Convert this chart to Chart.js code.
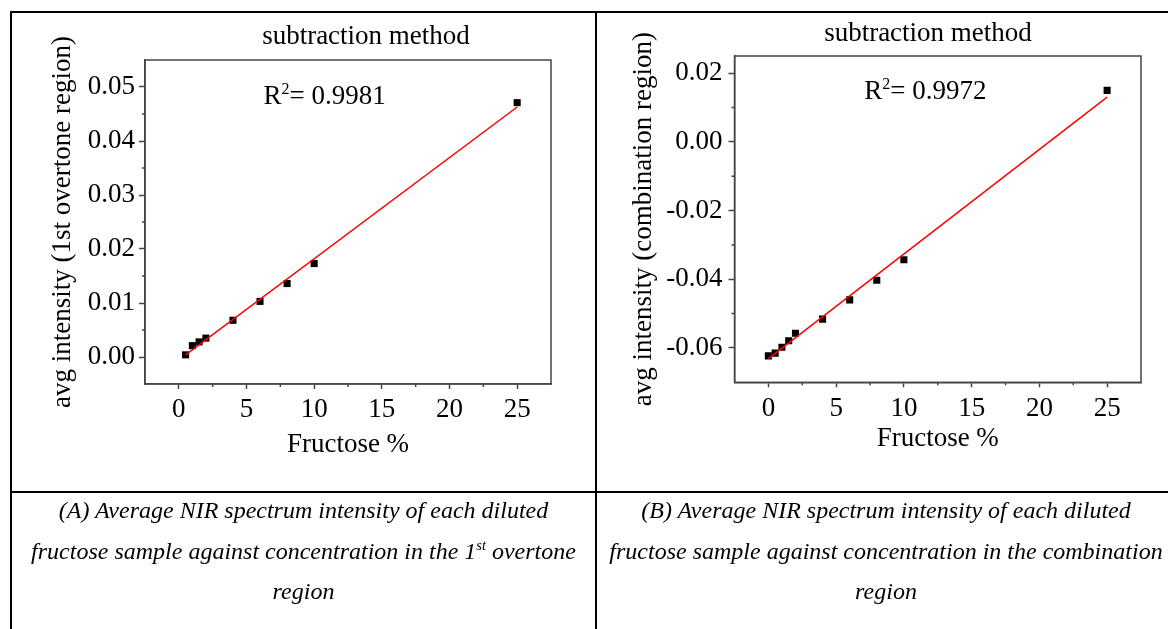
<!DOCTYPE html>
<html>
<head>
<meta charset="utf-8">
<script src="https://cdn.jsdelivr.net/npm/chart.js@4/dist/chart.umd.min.js"></script>
<style>
  html, body { margin: 0; padding: 0; background: #fff; }
  body { width: 1168px; height: 629px; overflow: hidden; position: relative; font-family: "Liberation Serif", "Times New Roman", serif; }
  .rule { position: absolute; background: #000; }
  canvas { position: absolute; }
  .title { position: absolute; font-size: 27px; line-height: 27px; white-space: nowrap; transform: translateX(-50%); }
  .caption { position: absolute; top: 490px; font-style: italic; font-size: 24px; line-height: 40.5px; text-align: center; white-space: nowrap; }
  .caption sup { font-size: 0.6em; line-height: 0; vertical-align: super; }
</style>
</head>
<body>
  <div class="rule" style="left:10px; top:11px; width:1170px; height:2px"></div>
  <div class="rule" style="left:10px; top:491px; width:1170px; height:2px"></div>
  <div class="rule" style="left:10px; top:11px; width:2px; height:630px"></div>
  <div class="rule" style="left:595px; top:11px; width:2px; height:630px"></div>

  <canvas id="chartA" width="583" height="478" style="left:12px; top:13px"></canvas>
  <canvas id="chartB" width="571" height="478" style="left:597px; top:13px"></canvas>

  <div class="title" style="left:366px; top:22px">subtraction method</div>
  <div class="title" style="left:928px; top:19px">subtraction method</div>

  <div class="caption" style="left:12px; width:583px">(A) Average NIR spectrum intensity of each diluted<br>fructose sample against concentration in the 1<sup>st</sup> overtone<br>region</div>
  <div class="caption" style="left:597px; width:578px">(B) Average NIR spectrum intensity of each diluted<br>fructose sample against concentration in the combination<br>region</div>

<script>
// (A) 1st overtone region
const fructoseA = [0.5, 1, 1.5, 2, 4, 6, 8, 10, 25];
const intensityA = [0.0004, 0.0021, 0.0028, 0.0035, 0.0068, 0.0103, 0.0136, 0.0173, 0.0471];
const fitXA = [0.5, 25];
const fitYA = [0.0004, 0.0463];
const yTicksA = [0, 0.01, 0.02, 0.03, 0.04, 0.05];
const yMinorA = [0.005, 0.015, 0.025, 0.035, 0.045];

// (B) combination region
const fructoseB = [0, 0.5, 1, 1.5, 2, 4, 6, 8, 10, 25];
const intensityB = [-0.0623, -0.0615, -0.0598, -0.0579, -0.0557, -0.0516, -0.046, -0.0403, -0.0343, 0.015];
const fitXB = [0, 25];
const fitYB = [-0.0631, 0.013];
const yTicksB = [-0.06, -0.04, -0.02, 0, 0.02];
const yMinorB = [-0.05, -0.03, -0.01, 0.01];

// shared x axis
const xTicks = [0, 5, 10, 15, 20, 25];
const xMinor = [2.5, 7.5, 12.5, 17.5, 22.5];

const axisColor = "#454545";
const serif = '"Liberation Serif", "Times New Roman", serif';

Chart.defaults.font.family = serif;
Chart.defaults.color = "#000";

// Plot frame and minor ticks (Origin style box)
const frame = {
  id: "frame",
  afterDraw(chart, args, opts) {
    const { ctx, chartArea: a, scales: { x, y } } = chart;
    ctx.save();
    ctx.strokeStyle = axisColor;
    ctx.lineWidth = 1.5;
    ctx.strokeRect(a.left, a.top, a.right - a.left, a.bottom - a.top);
    ctx.beginPath();
    opts.xMinor.forEach((v) => {
      const p = x.getPixelForValue(v);
      ctx.moveTo(p, a.bottom);
      ctx.lineTo(p, a.bottom + 3);
    });
    opts.yMinor.forEach((v) => {
      const p = y.getPixelForValue(v);
      ctx.moveTo(a.left, p);
      ctx.lineTo(a.left - 3, p);
    });
    ctx.stroke();
    ctx.restore();
  },
};

// R² annotation placed in data coordinates
const r2Label = {
  id: "r2Label",
  afterDatasetsDraw(chart, args, opts) {
    const { ctx, scales: { x, y } } = chart;
    let px = x.getPixelForValue(opts.at[0]);
    const py = y.getPixelForValue(opts.at[1]);
    ctx.save();
    ctx.fillStyle = "#000";
    ctx.textBaseline = "alphabetic";
    ctx.font = "27px " + serif;
    ctx.fillText("R", px, py);
    px += ctx.measureText("R").width;
    ctx.font = "16px " + serif;
    ctx.fillText("2", px, py - 10);
    px += ctx.measureText("2").width;
    ctx.font = "27px " + serif;
    ctx.fillText("= " + opts.text, px, py);
    ctx.restore();
  },
};

function toPoints(xs, ys) {
  return xs.map((v, i) => ({ x: v, y: ys[i] }));
}

function makeChart(id, cfg) {
  const ctx = document.getElementById(id).getContext("2d");
  return new Chart(ctx, {
    type: "scatter",
    data: {
      datasets: [
        {
          label: "fit",
          data: toPoints(cfg.fitX, cfg.fitY),
          showLine: true,
          borderColor: "#ff0000",
          borderWidth: 1.5,
          pointRadius: 0,
        },
        {
          label: "data",
          data: toPoints(cfg.xs, cfg.ys),
          pointStyle: "rect",
          pointRadius: 5,
          backgroundColor: "#000",
          borderColor: "#000",
          borderWidth: 0,
        },
      ],
    },
    options: {
      responsive: false,
      animation: false,
      layout: { padding: cfg.padding },
      plugins: {
        legend: { display: false },
        tooltip: { enabled: false },
        frame: { xMinor: xMinor, yMinor: cfg.yMinor },
        r2Label: { at: cfg.r2At, text: cfg.r2 },
      },
      scales: {
        x: {
          min: -2.5,
          max: 27.5,
          afterBuildTicks: (s) => { s.ticks = xTicks.map((v) => ({ value: v })); },
          afterFit: (s) => { s.height = cfg.xHeight; },
          border: { display: true, color: axisColor, width: 1.5 },
          grid: { drawOnChartArea: false, drawTicks: true, tickLength: 5, tickColor: axisColor, tickWidth: 1.5 },
          ticks: { font: { size: 27 }, padding: cfg.xPad, maxRotation: 0, autoSkip: false },
          title: { display: true, text: "Fructose %", font: { size: 27 }, padding: { top: 0, bottom: cfg.xTitlePad } },
        },
        y: {
          min: cfg.yMin,
          max: cfg.yMax,
          afterBuildTicks: (s) => { s.ticks = cfg.yTicks.map((v) => ({ value: v })); },
          afterFit: (s) => { s.width = cfg.yWidth; },
          border: { display: true, color: axisColor, width: 1.5 },
          grid: { drawOnChartArea: false, drawTicks: true, tickLength: 6, tickColor: axisColor, tickWidth: 1.5 },
          ticks: { font: { size: 27 }, padding: cfg.yPad, autoSkip: false, callback: (v) => Number(v).toFixed(2) },
          title: { display: true, text: cfg.yTitle, font: { size: 27 }, padding: { top: cfg.yTitlePad, bottom: 0 } },
        },
      },
    },
    plugins: [frame, r2Label],
  });
}

makeChart("chartA", {
  xs: fructoseA, ys: intensityA, fitX: fitXA, fitY: fitYA,
  yMin: -0.005, yMax: 0.055, yTicks: yTicksA, yMinor: yMinorA,
  yTitle: "avg intensity (1st overtone region)",
  r2: "0.9981", r2At: [6.25, 0.0468],
  padding: { left: 0, right: 44, top: 47, bottom: 0 },
  yWidth: 133, xHeight: 107, xPad: 5, yPad: 4, xTitlePad: 30, yTitlePad: 35,
});

makeChart("chartB", {
  xs: fructoseB, ys: intensityB, fitX: fitXB, fitY: fitYB,
  yMin: -0.07, yMax: 0.025, yTicks: yTicksB, yMinor: yMinorB,
  yTitle: "avg intensity (combination region)",
  r2: "0.9972", r2At: [7.08, 0.0125],
  padding: { left: 0, right: 27, top: 43, bottom: 0 },
  yWidth: 137.5, xHeight: 108.7, xPad: 5, yPad: 6, xTitlePad: 36, yTitlePad: 31,
});
</script>
</body>
</html>
